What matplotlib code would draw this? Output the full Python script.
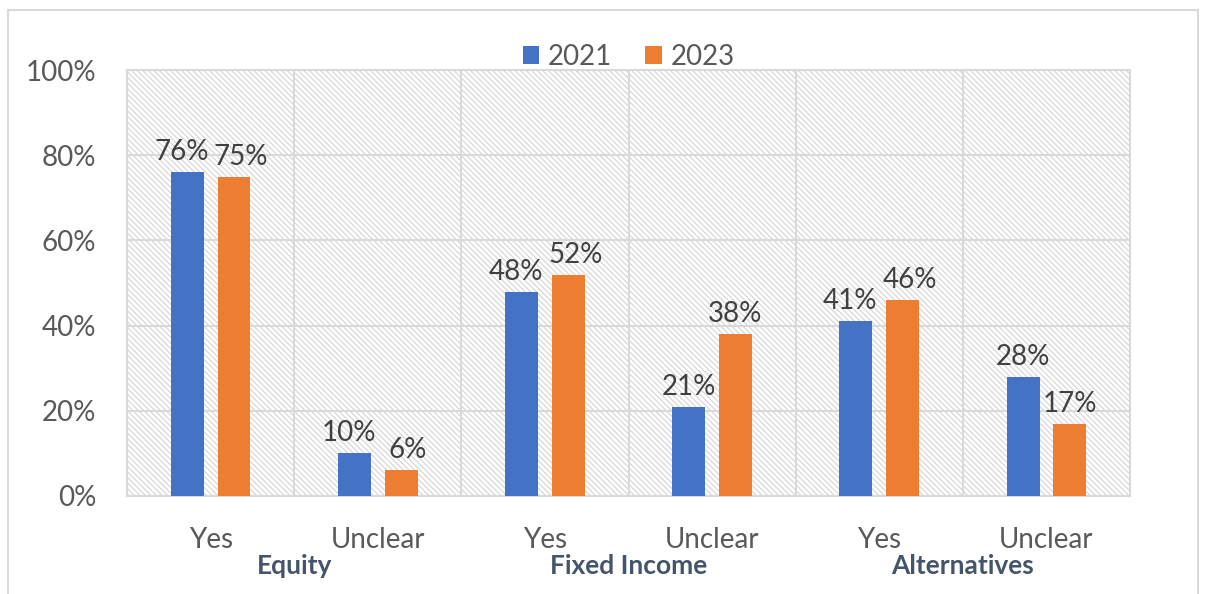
import numpy as np
import matplotlib.pyplot as plt
from matplotlib.patches import Rectangle

plt.rcParams['font.family'] = ['Lato', 'DejaVu Sans']
plt.rcParams['hatch.color'] = '#d4d4d4'
plt.rcParams['hatch.linewidth'] = 0.8

categories = ['Yes', 'Unclear', 'Yes', 'Unclear', 'Yes', 'Unclear']
groups = ['Equity', 'Fixed Income', 'Alternatives']
vals_2021 = [76, 10, 48, 21, 41, 28]
vals_2023 = [75, 6, 52, 38, 46, 17]
yticks = [0, 20, 40, 60, 80, 100]

blue = '#4472C4'
orange = '#ED7D31'
grid_c = '#d9d9d9'

fig = plt.figure(figsize=(12.05, 5.94), dpi=100)
ax = fig.add_axes([0.1054, 0.165, 0.8324, 0.717])

# outer chart border
fig.patches.append(Rectangle((8 / 1205, -0.01), 1190 / 1205, 1 - 10 / 594 + 0.01,
                             transform=fig.transFigure, fill=False,
                             edgecolor=grid_c, linewidth=1.5))

x = np.arange(len(categories))
ax.set_xlim(-0.5, len(categories) - 0.5)
ax.set_ylim(0, 100)

# hatched background
ax.add_patch(Rectangle((0, 0), 1, 1, transform=ax.transAxes, facecolor='white',
                       hatch='\\\\\\\\\\\\', edgecolor='#d4d4d4', linewidth=0, zorder=0))

for v in yticks[1:]:
    ax.axhline(v, color=grid_c, linewidth=1.5, zorder=1)
for b in np.arange(0.5, len(categories) - 0.5, 1):
    ax.axvline(b, color=grid_c, linewidth=1.5, zorder=1)

w = 0.197
off = 0.14
b1 = ax.bar(x - off, vals_2021, w, color=blue, label='2021', zorder=3)
b2 = ax.bar(x + off, vals_2023, w, color=orange, label='2023', zorder=3)

# labels: push the two labels of a pair apart when they sit at nearly the same height
for r1, r2 in zip(b1, b2):
    h1, h2 = r1.get_height(), r2.get_height()
    close = abs(h1 - h2) <= 5
    for r, h, dx in ((r1, h1, -4 if close else 0), (r2, h2, 5 if close else 0)):
        ax.annotate(f'{h:.0f}%', (r.get_x() + r.get_width() / 2, h),
                    xytext=(dx, 5), textcoords='offset points',
                    ha='center', va='bottom', fontsize=20, color='#404040', zorder=4)

for s in ax.spines.values():
    s.set_color(grid_c)
    s.set_linewidth(1.5)

ax.set_yticks(yticks)
ax.set_yticklabels([f'{v}%' for v in yticks], fontsize=20, color='#595959')
ax.set_xticks(x)
ax.set_xticklabels(categories, fontsize=20, color='#595959')
ax.tick_params(axis='both', length=0)
ax.tick_params(axis='y', pad=22)
ax.tick_params(axis='x', pad=22)

for i, g in enumerate(groups):
    ax.text(2 * i + 0.5, -0.165, g, transform=ax.get_xaxis_transform(),
            ha='center', va='center', fontsize=19, fontweight='bold', color='#44546A')

ax.legend(loc='lower center', bbox_to_anchor=(0.5, 0.975), ncol=2, frameon=False,
          fontsize=20, labelcolor='#595959', handlelength=0.6, handleheight=0.6,
          handletextpad=0.3, columnspacing=1.2, borderaxespad=0)

fig.savefig('out.png', dpi=100)
